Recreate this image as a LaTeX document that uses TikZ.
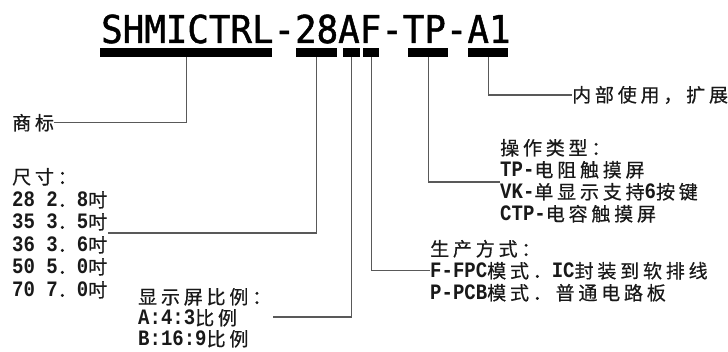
\documentclass[tikz,border=0pt]{standalone}
\usepackage{fontspec}
\newfontfamily\cjk[LetterSpace=20,FakeBold=0.5]{Noto Sans CJK SC}
\newfontfamily\lat[Scale=1.158,FakeStretch=0.864]{Liberation Mono}
\newfontfamily\ttl[FakeStretch=0.932,FakeBold=1.2]{DejaVu Sans Mono}
\newcommand\La[1]{{\lat\bfseries #1}}
\tikzset{
  bar/.style={fill=black, draw=none, minimum height=9pt, inner sep=0pt, anchor=north west},
  conn/.style={draw=black!65, line width=1.3pt},
  lbl/.style={anchor=base west, inner sep=0pt, text=black!90, font=\fontsize{19}{22}\selectfont\cjk},
}
\begin{document}
\begin{tikzpicture}[x=1pt,y=-1pt]
\fill[white] (0,0) rectangle (728,352);
\useasboundingbox (0,0) rectangle (728,352);
% title
\node[anchor=base west, inner sep=0pt, font=\fontsize{38.4}{40}\selectfont\ttl] (title) at (101,43) {SHMICTRL-28AF-TP-A1};
% bars
\node[bar, minimum width=172pt] (bmain) at (100,48) {};
\node[bar, minimum width=41pt] (b28) at (296,48) {};
\node[bar, minimum width=17pt] (bA) at (343,48) {};
\node[bar, minimum width=16pt] (bF) at (363,48) {};
\node[bar, minimum width=40pt] (bTP) at (408,48) {};
\node[bar, minimum width=40pt] (bA1) at (468,48) {};
% labels
\node[lbl] (sb) at (12,130) {商标};
\node[lbl] (cc) at (12,184) {尺寸：};
\node[lbl] (s28) at (12,207) {\La{28 2}．\La{8}吋};
\node[lbl] (s35) at (12,229) {\La{35 3}．\La{5}吋};
\node[lbl] (s36) at (12,252) {\La{36 3}．\La{6}吋};
\node[lbl] (s50) at (12,274) {\La{50 5}．\La{0}吋};
\node[lbl] (s70) at (12,297) {\La{70 7}．\La{0}吋};
\node[lbl] (xs) at (138,304) {显示屏比例：};
\node[lbl] (xa) at (138,325) {\La{A:4:3}比例};
\node[lbl] (xb) at (138,346) {\La{B:16:9}比例};
\node[lbl] (sc) at (430,256) {生产方式：};
\node[lbl] (sf) at (430,278) {\La{F-FPC}模式．\La{IC}封装到软排线};
\node[lbl] (sp) at (430,300) {\La{P-PCB}模式．普通电路板};
\node[lbl] (cz) at (500,155) {操作类型：};
\node[lbl] (ctp) at (500,177) {\La{TP-}电阻触摸屏};
\node[lbl] (cvk) at (500,199) {\La{VK-}单显示支持\La{6}按键};
\node[lbl] (cctp) at (500,221) {\La{CTP-}电容触摸屏};
\node[lbl] (nb) at (572,102) {内部使用，扩展};
% connectors
\coordinate (e28) at (108,233);
\coordinate (eA) at (273,317);
\coordinate (eTP) at (500,182);
\draw[conn] (bmain.south) |- (sb.east);
\draw[conn] (b28.south) |- (e28);
\draw[conn] (bA.south) |- (eA);
\draw[conn] (bF.south) |- (sf.west);
\draw[conn] (bTP.south) |- (eTP);
\draw[conn] (bA1.south) |- (nb.west);
\end{tikzpicture}
\end{document}
